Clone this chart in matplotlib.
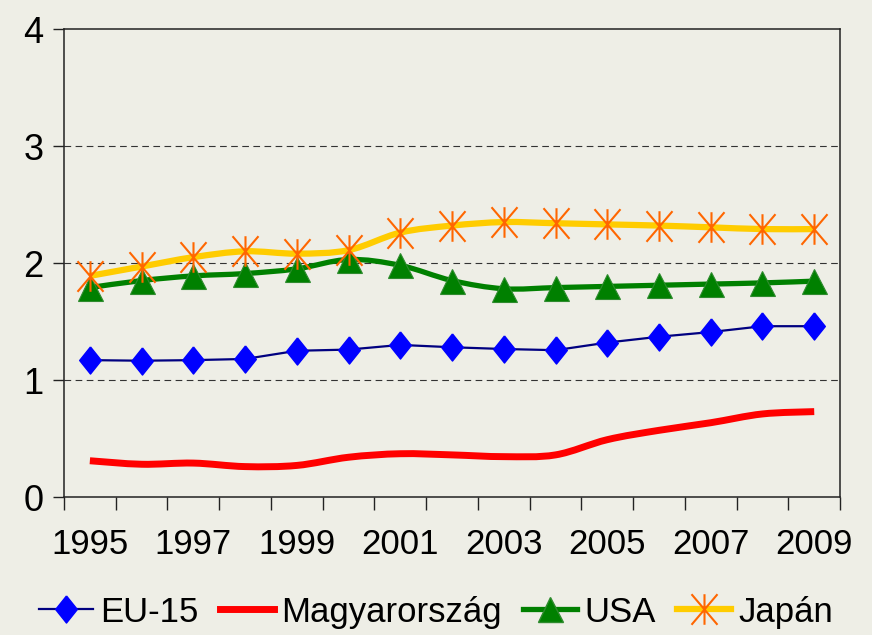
import numpy as np
import matplotlib.pyplot as plt
from matplotlib import font_manager
from matplotlib.path import Path
from matplotlib.patches import PathPatch
from matplotlib.lines import Line2D

# Series values, 1995-2009
years = list(range(1995, 2010))
eu15 = [1.17, 1.165, 1.17, 1.18, 1.25, 1.26, 1.30, 1.28, 1.265, 1.255, 1.32, 1.37, 1.41, 1.46, 1.46]
magyar = [0.31, 0.28, 0.29, 0.26, 0.27, 0.34, 0.37, 0.36, 0.345, 0.36, 0.49, 0.57, 0.635, 0.71, 0.73]
usa = [1.79, 1.85, 1.89, 1.91, 1.95, 2.03, 1.98, 1.85, 1.78, 1.79, 1.80, 1.81, 1.82, 1.83, 1.845]
japan = [1.89, 1.97, 2.05, 2.10, 2.08, 2.11, 2.26, 2.32, 2.35, 2.34, 2.33, 2.32, 2.305, 2.29, 2.29]
series_names = ['EU-15', 'Magyarország', 'USA', 'Japán']
year_labels = [str(y) for y in years[::2]]
y_ticks = [0, 1, 2, 3, 4]

# pick a narrow face if one is installed
names = {f.name for f in font_manager.fontManager.ttflist}
if 'Liberation Sans Narrow' in names:
    FONT, FS = 'Liberation Sans Narrow', 31
else:
    FONT, FS = 'Liberation Sans', 25
plt.rcParams['font.family'] = [FONT, 'DejaVu Sans']

BG = '#EEEEE6'


def smooth_path(x, y):
    # cubic bezier through every point, like a spreadsheet's smoothed line
    p = np.column_stack([x, y]).astype(float)
    verts = [p[0]]
    codes = [Path.MOVETO]
    n = len(p)
    for i in range(n - 1):
        p0 = p[i - 1] if i > 0 else p[i]
        p3 = p[i + 2] if i + 2 < n else p[i + 1]
        c1 = p[i] + (p[i + 1] - p0) / 6
        c2 = p[i + 1] - (p3 - p[i]) / 6
        verts += [c1, c2, p[i + 1]]
        codes += [Path.CURVE4] * 3
    return Path(verts, codes)


diamond = [(0, 1), (0.8, 0), (0, -1), (-0.8, 0), (0, 1)]
star = Path([(0, 1), (0, -1), (-0.85, 1), (0.85, -1), (-0.85, -1), (0.85, 1)],
            [Path.MOVETO, Path.LINETO, Path.MOVETO, Path.LINETO, Path.MOVETO, Path.LINETO])

fig = plt.figure(figsize=(8.72, 6.35), dpi=100, facecolor=BG)
ax = fig.add_axes([0.0734, 0.2173, 0.89, 0.737])
ax.set_facecolor(BG)
x = np.arange(len(years))

# EU-15: straight thin line with diamonds
ax.plot(x, eu15, color='#000080', lw=1.6, marker=diamond, ms=19.5,
        mfc='#0000FF', mec='#0000FF', zorder=3)

# Magyarország: thick smoothed red line
ax.add_patch(PathPatch(smooth_path(x, magyar), fill=False, ec='#FF0000', lw=5,
                       capstyle='butt', zorder=3))

# USA: smoothed green line with triangles
ax.add_patch(PathPatch(smooth_path(x, usa), fill=False, ec='#008000', lw=3.8, zorder=4))
ax.plot(x, usa, ls='none', marker='^', ms=18, mfc='#008000', mec='#2E8B2E',
        mew=0.8, zorder=4)

# Japán: smoothed yellow line with orange stars
ax.add_patch(PathPatch(smooth_path(x, japan), fill=False, ec='#FFCC00', lw=4.5, zorder=5))
ax.plot(x, japan, ls='none', marker=star, ms=22, mfc='none', mec='#FF6600',
        mew=1.5, zorder=6)

ax.set_xlim(-0.5, len(years) - 0.5)
ax.set_ylim(0, 4)
ax.set_yticks(y_ticks)
ax.set_yticklabels([str(v) for v in y_ticks], fontsize=FS + 1)
ax.set_xticks(x[::2])
ax.set_xticklabels(year_labels, fontsize=FS)
ax.set_xticks(np.arange(-0.5, len(years)), minor=True)
ax.tick_params(axis='x', which='major', length=0, pad=22)
ax.tick_params(axis='x', which='minor', length=9, width=1, color='#222222')
ax.tick_params(axis='y', length=8, width=1, color='#222222', pad=7)

for v in y_ticks[1:-1]:
    ax.axhline(v, color='#333333', lw=0.8, ls=(0, (6, 4)), zorder=1)
for s in ax.spines.values():
    s.set_color('#222222')
    s.set_linewidth(1.1)

handles = [
    Line2D([], [], color='#000080', lw=1.6, marker=diamond, ms=19.5,
           mfc='#0000FF', mec='#0000FF'),
    Line2D([], [], color='#FF0000', lw=5),
    Line2D([], [], color='#008000', lw=3.8, marker='^', ms=18, mfc='#008000', mec='#2E8B2E'),
    Line2D([], [], color='#FFCC00', lw=4.5, marker=star, ms=22, mfc='none',
           mec='#FF6600', mew=1.5),
]
fig.legend(handles, series_names, loc='center', bbox_to_anchor=(0.5, 0.036), ncol=4,
           frameon=False, fontsize=FS, handlelength=1.55, handletextpad=0.2,
           columnspacing=0.63, borderaxespad=0)

fig.savefig('out.png', dpi=100, facecolor=BG)
